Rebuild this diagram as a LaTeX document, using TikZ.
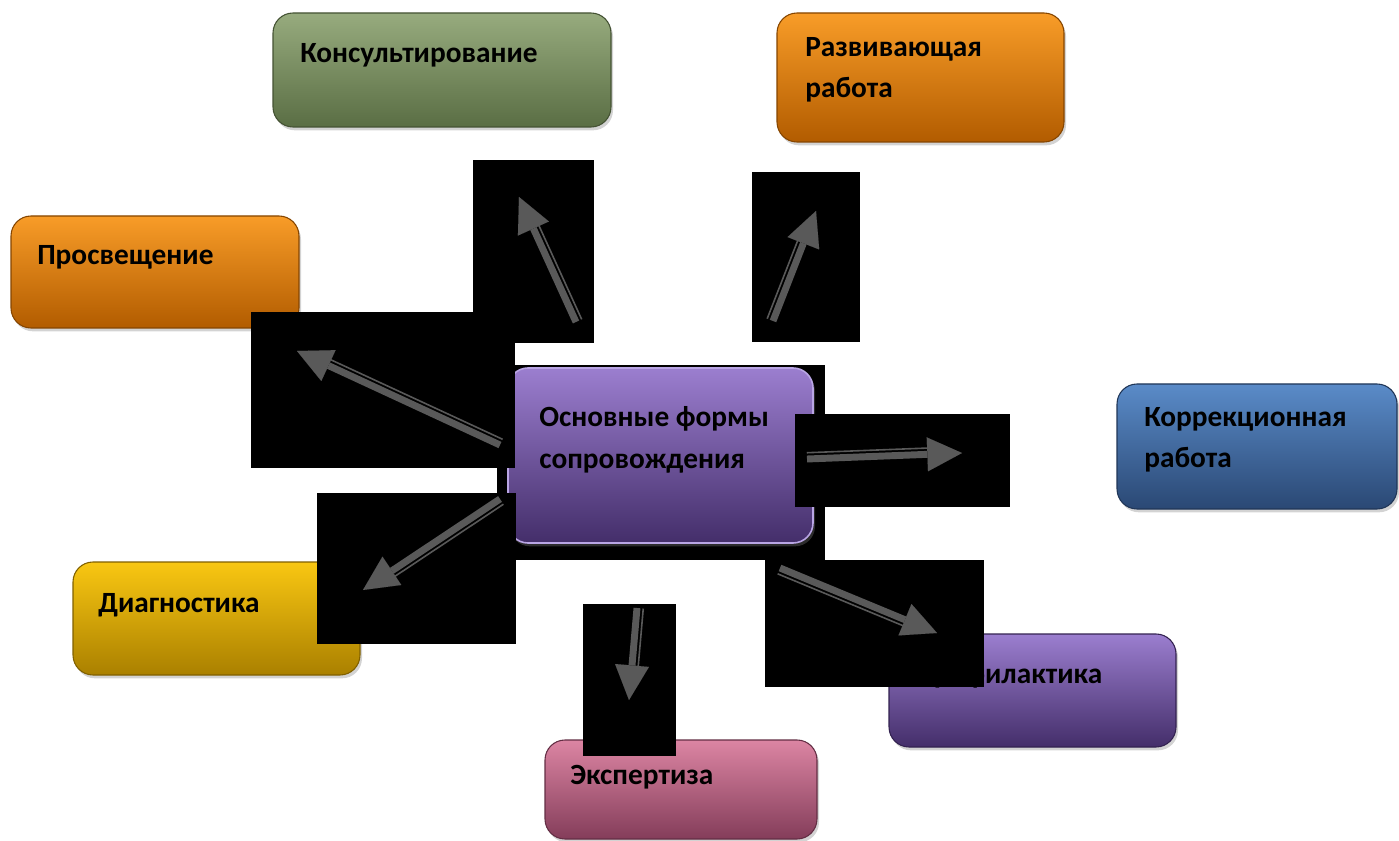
\documentclass[tikz,border=0pt]{standalone}
\usepackage{fontspec}
\setmainfont{Carlito}
\usetikzlibrary{arrows.meta,calc,shadows}

\definecolor{greentop}{HTML}{97AB7E}
\definecolor{greenbot}{HTML}{5A6E44}
\definecolor{orangetop}{HTML}{F89C28}
\definecolor{orangebot}{HTML}{B25C00}
\definecolor{violettop}{HTML}{9B7ECF}
\definecolor{violetbot}{HTML}{442E6A}
\definecolor{bluetop}{HTML}{5A8BC8}
\definecolor{bluebot}{HTML}{2A4874}
\definecolor{yellowtop}{HTML}{F9C712}
\definecolor{yellowbot}{HTML}{AA8000}
\definecolor{pinktop}{HTML}{DC85A3}
\definecolor{pinkbot}{HTML}{843D5A}
\definecolor{arrowgrey}{HTML}{595959}
\definecolor{centerline}{HTML}{B9A5E4}

\newcommand{\formarrow}[3]{%
  \draw [fatarrow] (#1) to (#2);
  \draw [slimline] ($(#1)!4.7pt!#3:(#2)$) to ($($(#2)!24pt!(#1)$)!4.7pt!#3:(#2)$);
}

\begin{document}
\begin{tikzpicture}[x=0.75pt, y=-0.75pt,
    formbox/.style 2 args={rounded corners=15pt, inner sep=0pt, top color=#1, bottom color=#2,
      draw=#2!75!black, line width=0.8pt,
      drop shadow={shadow xshift=1.5pt, shadow yshift=-2.5pt, opacity=0.35}},
    formtext/.style={font=\fontsize{22}{31}\selectfont\bfseries, align=left, inner sep=0pt, anchor=west},
    fatarrow/.style={draw=arrowgrey, line width=5.2pt, -{Triangle[length=26pt, width=25.5pt, line width=0.01pt]}},
    slimline/.style={draw=arrowgrey, line width=1.2pt}]
    \useasboundingbox (0, 0) rectangle (1399, 841);

    \node [formbox={greentop}{greenbot}, minimum width=253.5pt, minimum height=85.5pt] (konsult) at (442, 70) {};
    \node [formtext] (konsult-t) at (300, 55) {Консультирование};

    \node [formbox={orangetop}{orangebot}, minimum width=215.25pt, minimum height=96.75pt] (razv) at (920.5, 77.5) {};
    \node [formtext] (razv-t) at (805, 70) {Развивающая\\работа};

    \node [formbox={orangetop}{orangebot}, minimum width=216pt, minimum height=84pt] (prosv) at (155, 272) {};
    \node [formtext] (prosv-t) at (37, 257) {Просвещение};

    \node [formbox={bluetop}{bluebot}, minimum width=210pt, minimum height=93.75pt] (korr) at (1257, 446.5) {};
    \node [formtext] (korr-t) at (1144, 440) {Коррекционная\\работа};

    \node [formbox={yellowtop}{yellowbot}, minimum width=215.25pt, minimum height=84.75pt] (diag) at (216.5, 618.5) {};
    \node [formtext] (diag-t) at (98, 605) {Диагностика};

    \node [formbox={pinktop}{pinkbot}, minimum width=204pt, minimum height=74.25pt] (ekspert) at (681, 789.5) {};
    \node [formtext] (ekspert-t) at (570, 777) {Экспертиза};

    \node [formbox={violettop}{violetbot}, minimum width=215.25pt, minimum height=84.75pt] (profil) at (1032.5, 690.5) {};
    \node [formtext] (profil-t) at (915, 676) {Профилактика};

    % main box
    \fill [black] (497, 365) rectangle (825, 560);
    \node [formbox={violettop}{violetbot}, draw=centerline, line width=1.2pt, minimum width=228.75pt, minimum height=131.25pt] (main) at (660.5, 455.5) {};
    \node [formtext] (main-t) at (539, 440) {Основные формы\\сопровождения};

    % arrow backgrounds
    \fill [black] (473, 160) rectangle (594, 343);
    \fill [black] (752, 172) rectangle (860, 342);
    \fill [black] (251, 312) rectangle (515, 468);
    \fill [black] (795, 414) rectangle (1010, 507);
    \fill [black] (317, 493) rectangle (516, 644);
    \fill [black] (583, 604) rectangle (676, 756);
    \fill [black] (765, 560) rectangle (984, 687);

    \coordinate (k1) at (576, 322);
    \coordinate (k2) at (519, 197);
    \formarrow{k1}{k2}{-90}

    \coordinate (r1) at (773, 321);
    \coordinate (r2) at (816, 211);
    \formarrow{r1}{r2}{90}

    \coordinate (p1) at (500, 445);
    \coordinate (p2) at (297, 351);
    \formarrow{p1}{p2}{-90}

    \coordinate (c1) at (807, 459);
    \coordinate (c2) at (962, 453);
    \formarrow{c1}{c2}{90}

    \coordinate (d1) at (500, 499);
    \coordinate (d2) at (363, 590);
    \formarrow{d1}{d2}{90}

    \coordinate (e1) at (637, 608);
    \coordinate (e2) at (629, 700);
    \formarrow{e1}{e2}{90}

    \coordinate (f1) at (780, 568);
    \coordinate (f2) at (937, 633);
    \formarrow{f1}{f2}{-90}

\end{tikzpicture}
\end{document}
